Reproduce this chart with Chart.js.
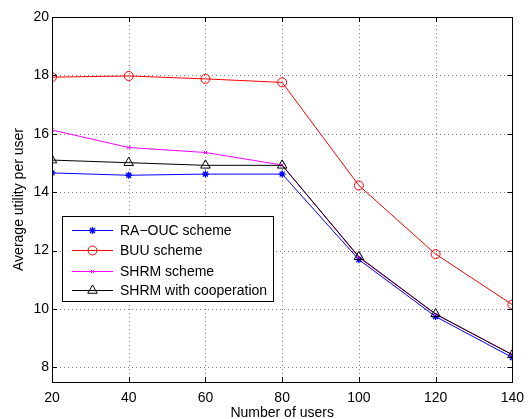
<!DOCTYPE html>
<html>
<head>
<meta charset="utf-8">
<script src="https://cdn.jsdelivr.net/npm/chart.js@4.4.0/dist/chart.umd.min.js"></script>
<style>
  html, body { margin: 0; padding: 0; background: #fff; }
  #wrap { width: 532px; height: 419px; }
</style>
</head>
<body>
<div id="wrap"><canvas id="c" width="532" height="419"></canvas></div>
<script>
// Number of users on the x axis
const users = [20, 40, 60, 80, 100, 120, 140];
// Average utility per user for each scheme
const raOuc = [14.66, 14.58, 14.62, 14.62, 11.69, 9.74, 8.34];
const buu = [17.94, 17.98, 17.88, 17.76, 14.23, 11.88, 10.15];
const shrm = [16.13, 15.53, 15.36, 14.93, 11.77, 9.82, 8.44];
const shrmCoop = [15.10, 15.01, 14.92, 14.92, 11.79, 9.83, 8.43];
// Axis ticks
const xTicks = [20, 40, 60, 80, 100, 120, 140];
const yTicks = [8, 10, 12, 14, 16, 18, 20];
const seriesNames = ['RA\u2212OUC scheme', 'BUU scheme', 'SHRM scheme', 'SHRM with cooperation'];

const FONT = 'Liberation Sans, Arial, sans-serif';
const NONE = 'rgba(0,0,0,0)';

function pts(arr) { return users.map((u, i) => ({ x: u, y: arr[i] })); }

const datasets = [
  { label: seriesNames[0], data: pts(raOuc), borderColor: '#0000ff', backgroundColor: '#0000ff',
    pointStyle: 'star', pointRadius: 3.5, pointBorderWidth: 1.3, order: 3 },
  { label: seriesNames[1], data: pts(buu), borderColor: '#ff0000', backgroundColor: NONE,
    pointStyle: 'circle', pointRadius: 4.5, pointBorderWidth: 1, order: 2 },
  { label: seriesNames[2], data: pts(shrm), borderColor: '#ff00ff', backgroundColor: '#ff00ff',
    pointStyle: 'crossRot', pointRadius: 2.5, pointBorderWidth: 1, order: 1 },
  { label: seriesNames[3], data: pts(shrmCoop), borderColor: '#000000', backgroundColor: NONE,
    pointStyle: 'triangle', pointRadius: 5.5, pointBorderWidth: 1, order: 0 }
].map(d => Object.assign({ borderWidth: 1, tension: 0, fill: false, pointHoverRadius: d.pointRadius }, d));

// Dotted grid behind the data
const gridPlugin = {
  id: 'dottedGrid',
  beforeDatasetsDraw(chart) {
    const { ctx, chartArea: a, scales } = chart;
    ctx.save();
    ctx.strokeStyle = '#808080';
    ctx.lineWidth = 1;
    ctx.setLineDash([1, 3]);
    ctx.beginPath();
    scales.x.ticks.forEach(t => {
      const x = Math.round(scales.x.getPixelForValue(t.value)) + 0.5;
      ctx.moveTo(x, a.bottom); ctx.lineTo(x, a.top);
    });
    scales.y.ticks.forEach(t => {
      const y = Math.round(scales.y.getPixelForValue(t.value)) + 0.5;
      ctx.moveTo(a.left, y); ctx.lineTo(a.right, y);
    });
    ctx.stroke();
    ctx.restore();
  }
};

// Frame, inward tick marks and the boxed legend
const framePlugin = {
  id: 'frame',
  afterDatasetsDraw(chart) {
    const { ctx, chartArea: a, scales } = chart;
    ctx.save();
    ctx.strokeStyle = '#000';
    ctx.lineWidth = 1;
    ctx.strokeRect(Math.round(a.left) + 0.5, Math.round(a.top) + 0.5,
                   Math.round(a.right - a.left), Math.round(a.bottom - a.top));
    const tl = 5;
    ctx.beginPath();
    scales.x.ticks.forEach(t => {
      const x = Math.round(scales.x.getPixelForValue(t.value)) + 0.5;
      ctx.moveTo(x, a.bottom); ctx.lineTo(x, a.bottom - tl);
      ctx.moveTo(x, a.top); ctx.lineTo(x, a.top + tl);
    });
    scales.y.ticks.forEach(t => {
      const y = Math.round(scales.y.getPixelForValue(t.value)) + 0.5;
      ctx.moveTo(a.left, y); ctx.lineTo(a.left + tl, y);
      ctx.moveTo(a.right, y); ctx.lineTo(a.right - tl, y);
    });
    ctx.stroke();

    // legend box
    const bx = 62.5, by = 216.5, bw = 211, bh = 85;
    ctx.fillStyle = '#fff';
    ctx.fillRect(bx, by, bw, bh);
    ctx.strokeRect(bx, by, bw, bh);
    const rows = [229.5, 250, 270.5, 290];
    ctx.font = '14px ' + FONT;
    ctx.textBaseline = 'middle';
    ctx.textAlign = 'left';
    chart.data.datasets.forEach((ds, i) => {
      const y = Math.round(rows[i]) + 0.5;
      ctx.strokeStyle = ds.borderColor;
      ctx.lineWidth = 1;
      ctx.beginPath(); ctx.moveTo(72, y); ctx.lineTo(113, y); ctx.stroke();
      ctx.fillStyle = ds.backgroundColor;
      ctx.lineWidth = ds.pointBorderWidth;
      Chart.helpers.drawPoint(ctx, {
        pointStyle: ds.pointStyle, radius: ds.pointRadius, borderWidth: ds.pointBorderWidth, rotation: 0
      }, 92.5, y);
      ctx.fillStyle = '#000';
      ctx.fillText(ds.label, 120, y + 1);
    });
    ctx.restore();
  }
};

new Chart(document.getElementById('c'), {
  type: 'line',
  data: { datasets },
  options: {
    responsive: false,
    animation: false,
    devicePixelRatio: 1,
    layout: { padding: { top: 17, right: 18, left: 0, bottom: 0 } },
    plugins: { legend: { display: false }, tooltip: { enabled: false } },
    scales: {
      x: {
        type: 'linear', min: 20, max: 140,
        afterBuildTicks: s => { s.ticks = xTicks.map(v => ({ value: v })); },
        afterFit: s => { s.height = 37; },
        ticks: { color: '#000', font: { family: FONT, size: 14 }, padding: 8, maxRotation: 0 },
        grid: { display: false, drawTicks: false },
        border: { display: false },
        title: { display: true, text: 'Number of users', color: '#000',
                 font: { family: FONT, size: 14 }, padding: { top: 0, bottom: -3 } }
      },
      y: {
        type: 'linear', min: 7.5, max: 20,
        afterBuildTicks: s => { s.ticks = yTicks.map(v => ({ value: v })); },
        afterFit: s => { s.width = 52; },
        ticks: { color: '#000', font: { family: FONT, size: 14 }, padding: 3 },
        grid: { display: false, drawTicks: false },
        border: { display: false },
        title: { display: true, text: 'Average utility per user', color: '#000',
                 font: { family: FONT, size: 14 }, padding: { top: 11, bottom: 0 } }
      }
    }
  },
  plugins: [gridPlugin, framePlugin]
});
</script>
</body>
</html>
